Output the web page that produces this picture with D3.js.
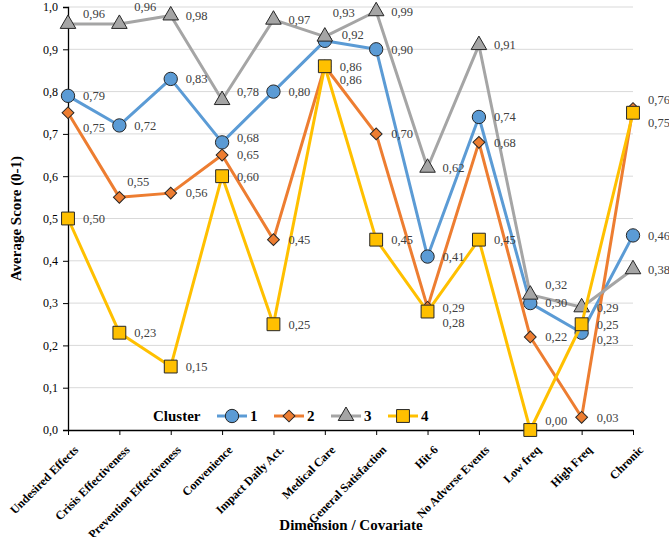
<!DOCTYPE html>
<html lang="en">
<head>
<meta charset="UTF-8">
<script src="https://d3js.org/d3.v7.min.js"></script>
<title>Average Score by Cluster</title>
<style>
  body { margin: 0; background: #fff; }
  text { font-family: "Liberation Serif", "Times New Roman", serif; }
</style>
</head>
<body>
<svg id="mainsvg" width="669" height="537"></svg>
<script>
// data
const dimensions = ['Undesired Effects', 'Crisis Effectiveness', 'Prevention Effectiveness', 'Convenience',
  'Impact Daily Act.', 'Medical Care', 'General Satisfaction', 'Hit-6', 'No Adverse Events',
  'Low freq', 'High Freq', 'Chronic']
const cluster1 = [0.79, 0.72, 0.83, 0.68, 0.80, 0.92, 0.90, 0.41, 0.74, 0.30, 0.23, 0.46]
const cluster2 = [0.75, 0.55, 0.56, 0.65, 0.45, 0.86, 0.70, 0.29, 0.68, 0.22, 0.03, 0.76]
const cluster3 = [0.96, 0.96, 0.98, 0.78, 0.97, 0.93, 0.99, 0.62, 0.91, 0.32, 0.29, 0.38]
const cluster4 = [0.50, 0.23, 0.15, 0.60, 0.25, 0.86, 0.45, 0.28, 0.45, 0.00, 0.25, 0.75]
const clusterNames = ['1', '2', '3', '4']
const yTicks = [0, 0.1, 0.2, 0.3, 0.4, 0.5, 0.6, 0.7, 0.8, 0.9, 1.0]

const svg = d3.select('#mainsvg')
const margin = { top: 7, left: 68, bottom: 107, right: 36 }
const width = +svg.attr('width'), height = +svg.attr('height')
const innerWidth = width - margin.left - margin.right
const innerHeight = height - margin.top - margin.bottom

const colors = ['#5B9BD5', '#ED7D31', '#A5A5A5', '#FFC000']
const shapes = [
  { type: d3.symbolCircle, size: 140, rot: 0 },
  { type: d3.symbolSquare, size: 70, rot: 45 },
  { type: d3.symbolTriangle, size: 105, rot: 0 },
  { type: d3.symbolSquare, size: 165, rot: 0 }
]
const series = [cluster1, cluster2, cluster3, cluster4].map((vals, i) => ({ name: clusterNames[i], vals }))

// little label nudges where Excel moved them to avoid overlaps: "series-index": [dx, dy]
const nudge = {
  '2-0': [0, -10], '2-1': [0, -17], '1-0': [0, 15], '1-1': [-7, -16],
  '2-3': [0, -8], '0-3': [0, -5], '2-5': [-7, -24], '0-5': [2, -6], '1-5': [0, 13],
  '3-7': [0, 11], '2-9': [0, -10], '3-9': [0, -9], '0-10': [0, 7],
  '1-11': [0, -9], '3-11': [0, 10]
}

const x = d3.scalePoint().domain(dimensions).range([0, innerWidth]).padding(0)
const y = d3.scaleLinear().domain([0, 1]).range([innerHeight, 0])

const g = svg.append('g').attr('transform', `translate(${margin.left},${margin.top})`)

// gridlines
g.append('g').selectAll('line').data(yTicks.slice(1)).enter().append('line')
  .attr('x1', 0).attr('x2', innerWidth)
  .attr('y1', d => y(d)).attr('y2', d => y(d))
  .attr('stroke', '#d9d9d9').attr('stroke-width', 1)

// y axis
const yAxis = g.append('g').call(d3.axisLeft(y).tickValues(yTicks).tickSize(5).tickPadding(5)
  .tickFormat(d => d3.format('.1f')(d).replace('.', ',')))
yAxis.selectAll('text').attr('font-size', 12).attr('fill', '#000')
  .style('font-family', '"Liberation Serif", serif')
yAxis.select('.domain').attr('stroke', '#000').attr('stroke-width', 1.3)

// x axis
const xAxis = g.append('g').attr('transform', `translate(0,${innerHeight})`)
  .call(d3.axisBottom(x).tickSize(5).tickSizeOuter(0))
xAxis.select('.domain').attr('stroke', '#000').attr('stroke-width', 1.3)
xAxis.selectAll('text')
  .attr('font-size', 12).attr('font-weight', 'bold').attr('fill', '#000')
  .style('font-family', '"Liberation Serif", serif')
  .attr('text-anchor', 'end').attr('dy', '0.35em')
  .attr('transform', 'translate(2,12) rotate(-45)')

// series
const line = d3.line().x((d, i) => x(dimensions[i])).y(d => y(d))
series.forEach((s, si) => {
  const sg = g.append('g')
  sg.append('path').datum(s.vals).attr('d', line)
    .attr('fill', 'none').attr('stroke', colors[si]).attr('stroke-width', 3)
    .attr('stroke-linejoin', 'round')
  sg.selectAll('path.mark').data(s.vals).enter().append('path').attr('class', 'mark')
    .attr('d', d3.symbol().type(shapes[si].type).size(shapes[si].size))
    .attr('transform', (d, i) => `translate(${x(dimensions[i])},${y(d)}) rotate(${shapes[si].rot})`)
    .attr('fill', colors[si]).attr('stroke', '#262626').attr('stroke-width', 1)
})

// data labels on top
series.forEach((s, si) => {
  g.append('g').selectAll('text').data(s.vals).enter().append('text')
    .attr('x', (d, i) => x(dimensions[i]) + 15 + (nudge[si + '-' + i] || [0, 0])[0])
    .attr('y', (d, i) => y(d) + (nudge[si + '-' + i] || [0, 0])[1])
    .attr('dy', '0.35em').attr('font-size', 12.5).attr('fill', '#404040')
    .text(d => d3.format('.2f')(d).replace('.', ','))
})

// legend
const lg = g.append('g').attr('transform', `translate(0,${y(0) - 14})`)
lg.append('text').attr('x', 85).attr('y', 0).attr('dy', '0.35em')
  .attr('font-size', 15).attr('font-weight', 'bold').text('Cluster')
series.forEach((s, si) => {
  const ox = 149 + si * 57
  lg.append('line').attr('x1', ox).attr('x2', ox + 30).attr('y1', 0).attr('y2', 0)
    .attr('stroke', colors[si]).attr('stroke-width', 3)
  lg.append('path').attr('d', d3.symbol().type(shapes[si].type).size(shapes[si].size))
    .attr('transform', `translate(${ox + 15},0) rotate(${shapes[si].rot})`)
    .attr('fill', colors[si]).attr('stroke', '#262626').attr('stroke-width', 1)
  lg.append('text').attr('x', ox + 33).attr('y', 0).attr('dy', '0.35em')
    .attr('font-size', 15).attr('font-weight', 'bold').text(s.name)
})

// axis titles
svg.append('text').attr('x', 351).attr('y', 530)
  .attr('text-anchor', 'middle').attr('font-size', 15).attr('font-weight', 'bold')
  .text('Dimension / Covariate')
svg.append('text').attr('transform', `translate(16,${margin.top + innerHeight / 2}) rotate(-90)`)
  .attr('text-anchor', 'middle').attr('dy', '0.35em').attr('font-size', 15).attr('font-weight', 'bold')
  .text('Average Score (0-1)')
</script>
</body>
</html>
